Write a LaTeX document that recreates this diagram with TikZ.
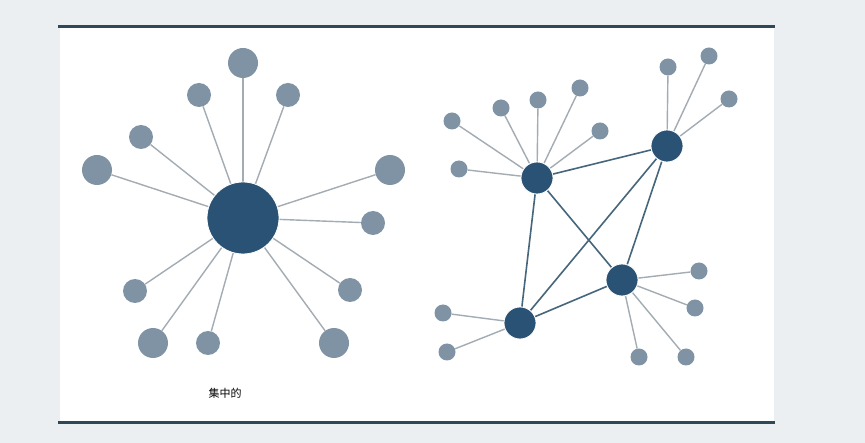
\documentclass[tikz,border=0pt]{standalone}
\usepackage{fontspec}
\newfontfamily\cjk{Noto Sans CJK SC}
\usetikzlibrary{positioning}
\definecolor{pagebg}{HTML}{ECEFF2}
\definecolor{rulecol}{HTML}{2F4858}
\definecolor{hubcol}{HTML}{2A5274}
\definecolor{leafcol}{HTML}{7F93A4}
\definecolor{spokecol}{HTML}{A3ACB3}
\definecolor{linkcol}{HTML}{46667C}
\pgfdeclarelayer{panel}
\pgfdeclarelayer{edges}
\pgfsetlayers{panel,edges,main}
\tikzset{
    hub/.style={circle,fill=hubcol,draw=white,line width=0.8pt,inner sep=0pt,minimum size=#1},
    leaf/.style={circle,fill=leafcol,inner sep=0pt,minimum size=#1},
    spoke/.style={draw=spokecol,line width=1.4pt},
    link/.style={draw=linkcol,line width=1.6pt}
}
\begin{document}
\begin{tikzpicture}[x=1pt,y=-1pt]
    % Background and panel
    \begin{pgfonlayer}{panel}
        \fill [pagebg] (0,0) rectangle (865,443);
        \fill [white] (60,27) rectangle (774,423);
        \draw [rulecol,line width=3pt] (58,27) -- (775,27);
        \draw [rulecol,line width=3pt] (58,423) -- (775,423);
    \end{pgfonlayer}
    % Centralised network
    \node (ctr) at (243,218) [hub=72pt] {};
    \foreach \name/\x/\y/\d in {c1/243/63/30, c2/199/95/24, c3/288/95/24,
        c4/141/137/24, c5/97/170/30, c6/390/170/30, c7/373/223/24,
        c8/135/291/24, c9/153/343/30, c10/208/343/24, c11/350/290/24,
        c12/334/343/30}
    {
        \node (\name) at (\x,\y) [leaf=\d pt] {};
        \begin{pgfonlayer}{edges}
            \draw [spoke] (ctr) -- (\name);
        \end{pgfonlayer}
    }
    \node (lblctr) at (225,393) {\cjk\fontsize{11}{13}\selectfont 集中的};
    % Decentralised network
    \node (ha) at (537,178) [hub=32pt] {};
    \node (hb) at (667,146) [hub=32pt] {};
    \node (hc) at (622,280) [hub=32pt] {};
    \node (hd) at (520,323) [hub=32pt] {};
    \foreach \hubname/\name/\x/\y in {ha/a1/452/121, ha/a2/501/108,
        ha/a3/538/100, ha/a4/580/88, ha/a5/600/131, ha/a6/459/169,
        hb/b1/668/67, hb/b2/709/56, hb/b3/729/99,
        hc/k1/699/271, hc/k2/695/308, hc/k3/639/357, hc/k4/686/357,
        hd/d1/443/313, hd/d2/447/352}
    {
        \node (\name) at (\x,\y) [leaf=17pt] {};
        \begin{pgfonlayer}{edges}
            \draw [spoke] (\hubname) -- (\name);
        \end{pgfonlayer}
    }
    \begin{pgfonlayer}{edges}
        \draw [link] (ha) -- (hb);
        \draw [link] (ha) -- (hc);
        \draw [link] (ha) -- (hd);
        \draw [link] (hb) -- (hc);
        \draw [link] (hb) -- (hd);
        \draw [link] (hc) -- (hd);
    \end{pgfonlayer}
\end{tikzpicture}
\end{document}
